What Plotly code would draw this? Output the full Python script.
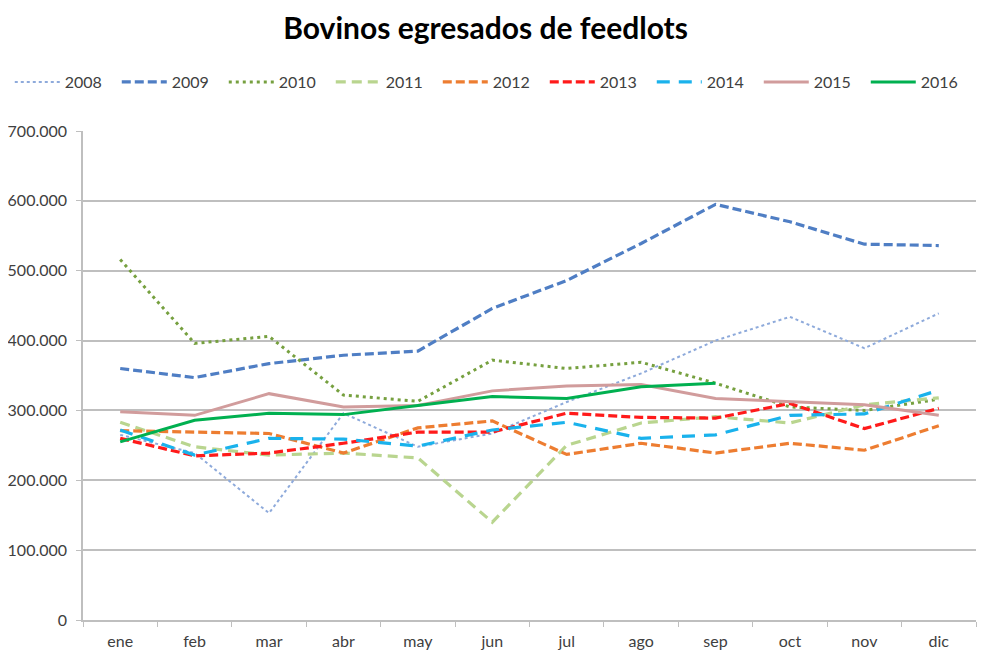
import plotly.graph_objects as go

months = ["ene", "feb", "mar", "abr", "may", "jun", "jul", "ago", "sep", "oct", "nov", "dic"]

y2008 = [265000, 239000, 153000, 296000, 248000, 267000, 312000, 353000, 400000, 434000, 389000, 439000]
y2009 = [360000, 347000, 367000, 379000, 385000, 446000, 486000, 539000, 595000, 570000, 538000, 536000]
y2010 = [516000, 396000, 406000, 322000, 313000, 372000, 360000, 369000, 339000, 305000, 300000, 316000]
y2011 = [283000, 248000, 236000, 239000, 232000, 140000, 250000, 282000, 291000, 282000, 308000, 318000]
y2012 = [271000, 269000, 267000, 239000, 275000, 285000, 237000, 253000, 239000, 253000, 243000, 278000]
y2013 = [260000, 235000, 239000, 253000, 269000, 269000, 296000, 290000, 289000, 310000, 274000, 303000]
y2014 = [272000, 236000, 260000, 259000, 249000, 272000, 283000, 260000, 265000, 293000, 295000, 329000]
y2015 = [298000, 293000, 324000, 305000, 307000, 328000, 335000, 337000, 317000, 313000, 308000, 293000]
y2016 = [255000, 286000, 296000, 294000, 307000, 320000, 317000, 334000, 339000]

series = [
    ("2008", y2008, "#8EAADB", 2, "dot"),
    ("2009", y2009, "#4F7EC4", 3.2, "9px,4px"),
    ("2010", y2010, "#76A03F", 3, "3px,4px"),
    ("2011", y2011, "#B9D58F", 3.2, "10px,6px"),
    ("2012", y2012, "#ED7D31", 3.2, "9px,4px"),
    ("2013", y2013, "#FF1A1A", 3.2, "9px,4px"),
    ("2014", y2014, "#1AB2EC", 3.2, "13px,9px"),
    ("2015", y2015, "#D19C9C", 3, "solid"),
    ("2016", y2016, "#00B050", 3, "solid"),
]

fig = go.Figure()
for name, vals, color, width, dash in series:
    fig.add_trace(go.Scatter(
        x=months[:len(vals)], y=vals, name=name, mode="lines",
        line=dict(color=color, width=width, dash=dash),
    ))

font_family = "Lato, 'Open Sans', sans-serif"
# page body has an 8px default margin; the figure is sized/offset to compensate
fig.update_layout(
    width=993, height=656,
    margin=dict(l=75, r=25, t=123, b=44, autoexpand=False),
    paper_bgcolor="white", plot_bgcolor="white",
    separators=",.",
    font=dict(family=font_family, size=16, color="#404040"),
    title=dict(text="<b>Bovinos egresados de feedlots</b>", x=0.481, xanchor="center",
               xref="container", yref="container",
               y=0.9695, yanchor="middle", font=dict(size=30, color="#000000", family=font_family)),
    legend=dict(orientation="h", xref="paper", yref="paper", x=-0.082, xanchor="left",
                y=1.1002, yanchor="middle", font=dict(size=16, color="#404040"),
                entrywidth=47, entrywidthmode="pixels", itemwidth=45, tracegroupgap=0),
    showlegend=True,
)
fig.update_xaxes(
    type="category", range=[-0.5, 11.5], showgrid=False,
    showline=True, linecolor="#BFBFBF", linewidth=1.5,
    ticks="outside", tickson="boundaries", ticklen=5, tickcolor="#BFBFBF",
    tickfont=dict(size=16, color="#404040"), ticklabelstandoff=6,
)
fig.update_yaxes(
    range=[0, 700000], dtick=100000, tickformat=",d",
    showgrid=True, gridcolor="#BFBFBF", gridwidth=1.5,
    showline=True, linecolor="#BFBFBF", linewidth=1.5,
    ticks="outside", ticklen=5, tickcolor="#BFBFBF",
    tickfont=dict(size=16, color="#404040"), zeroline=False, ticklabelstandoff=6,
)

fig.write_html("out.html")
